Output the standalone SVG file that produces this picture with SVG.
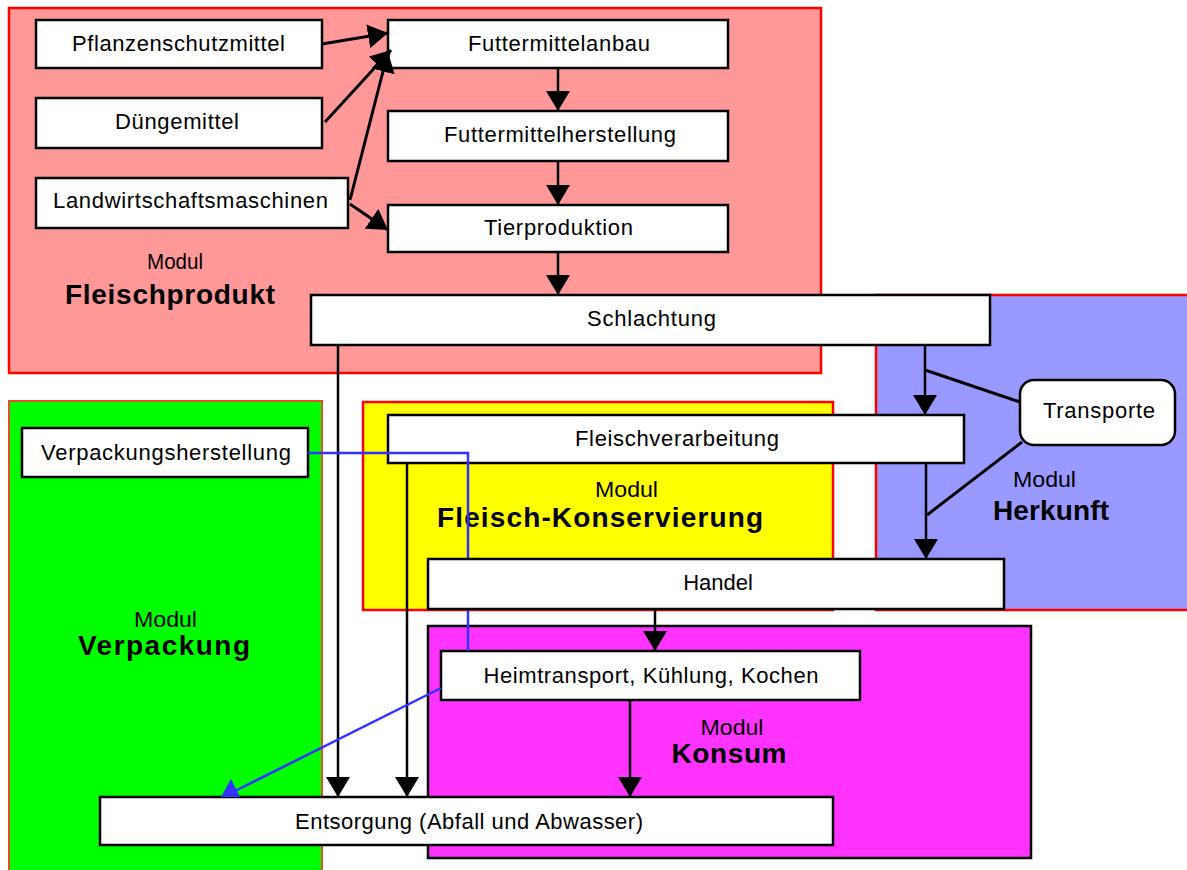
<svg xmlns="http://www.w3.org/2000/svg" width="1187" height="870" viewBox="0 0 1187 870">
  <style>
    .box { fill: #ffffff; stroke: #000000; stroke-width: 2.5; }
    .lbl { font-family: "Liberation Sans", Arial, sans-serif; font-size: 22px; fill: #000000; text-anchor: middle; }
    .mod { font-family: "Liberation Sans", Arial, sans-serif; font-size: 22px; fill: #000000; text-anchor: middle; }
    .modb { font-family: "Liberation Sans", Arial, sans-serif; font-size: 28px; font-weight: bold; fill: #000000; text-anchor: middle; }
    .edge { fill: none; stroke: #000000; stroke-width: 2.5; }
    .edge-thick { fill: none; stroke: #000000; stroke-width: 3; }
    .blue { fill: none; stroke: #3333ff; stroke-width: 2.5; }
  </style>
  <defs>
    <marker id="arrow" viewBox="0 0 20 24" refX="20" refY="12" markerWidth="20" markerHeight="24" markerUnits="userSpaceOnUse" orient="auto">
      <path d="M0,0 L20,12 L0,24 Z" fill="#000000"/>
    </marker>
  </defs>

  <rect width="1187" height="870" fill="#ffffff"/>

  <!-- module areas -->
  <g id="modul-fleischprodukt">
    <rect x="9" y="8" width="812" height="365" fill="#ff9999" stroke="#ff0000" stroke-width="2.5"/>
    <text class="mod" x="175" y="269" textLength="56" lengthAdjust="spacingAndGlyphs">Modul</text>
    <text class="modb" x="170" y="304" textLength="210">Fleischprodukt</text>
  </g>
  <g id="modul-herkunft">
    <rect x="876" y="295" width="320" height="315" fill="#9999ff" stroke="#ff0000" stroke-width="2.5"/>
    <text class="mod" x="1044.5" y="487" textLength="63" lengthAdjust="spacingAndGlyphs">Modul</text>
    <text class="modb" x="1051" y="520" textLength="116">Herkunft</text>
  </g>
  <g id="modul-verpackung">
    <rect x="9" y="401" width="313" height="480" fill="#00ff00" stroke="#e0502a" stroke-width="2"/>
    <text class="mod" x="165.5" y="627" textLength="63" lengthAdjust="spacingAndGlyphs">Modul</text>
    <text class="modb" x="164" y="655" textLength="172">Verpackung</text>
  </g>
  <g id="modul-konservierung">
    <rect x="363" y="402" width="470" height="208" fill="#ffff00" stroke="#ff0000" stroke-width="2.5"/>
    <text class="mod" x="626.5" y="497" textLength="63" lengthAdjust="spacingAndGlyphs">Modul</text>
    <text class="modb" x="600" y="527" textLength="326">Fleisch-Konservierung</text>
  </g>
  <g id="modul-konsum">
    <rect x="428" y="626" width="603" height="232" fill="#ff33ff" stroke="#000000" stroke-width="2.5"/>
    <text class="mod" x="732" y="735" textLength="63" lengthAdjust="spacingAndGlyphs">Modul</text>
    <text class="modb" x="729" y="763" textLength="115">Konsum</text>
  </g>

  <!-- process nodes -->
  <g id="pflanzenschutzmittel">
    <rect class="box" x="36" y="20" width="286" height="48"/>
    <text class="lbl" x="178.5" y="51" textLength="213">Pflanzenschutzmittel</text>
  </g>
  <g id="duengemittel">
    <rect class="box" x="36" y="98" width="286" height="50"/>
    <text class="lbl" x="177" y="129" textLength="124">Düngemittel</text>
  </g>
  <g id="landwirtschaftsmaschinen">
    <rect class="box" x="36" y="178" width="312" height="50"/>
    <text class="lbl" x="190.5" y="208" textLength="275">Landwirtschaftsmaschinen</text>
  </g>
  <g id="futtermittelanbau">
    <rect class="box" x="388" y="20" width="340" height="48"/>
    <text class="lbl" x="559" y="51" textLength="182">Futtermittelanbau</text>
  </g>
  <g id="futtermittelherstellung">
    <rect class="box" x="388" y="111" width="340" height="50"/>
    <text class="lbl" x="560" y="142" textLength="232">Futtermittelherstellung</text>
  </g>
  <g id="tierproduktion">
    <rect class="box" x="388" y="205" width="340" height="47"/>
    <text class="lbl" x="558.5" y="235" textLength="149">Tierproduktion</text>
  </g>
  <g id="schlachtung">
    <rect class="box" x="311" y="295" width="679" height="50"/>
    <text class="lbl" x="651.5" y="326" textLength="129">Schlachtung</text>
  </g>
  <g id="transporte">
    <rect class="box" x="1020" y="380" width="155" height="65" rx="14" ry="14"/>
    <text class="lbl" x="1099" y="418" textLength="112">Transporte</text>
  </g>
  <g id="verpackungsherstellung">
    <rect class="box" x="22" y="428" width="286" height="49"/>
    <text class="lbl" x="166" y="460" textLength="250">Verpackungsherstellung</text>
  </g>
  <g id="fleischverarbeitung">
    <rect class="box" x="388" y="415" width="576" height="48"/>
    <text class="lbl" x="677" y="446" textLength="204">Fleischverarbeitung</text>
  </g>
  <g id="heimtransport">
    <rect class="box" x="441" y="651" width="419" height="49"/>
    <text class="lbl" x="651" y="683" textLength="335">Heimtransport, Kühlung, Kochen</text>
  </g>
  <g id="entsorgung">
    <rect class="box" x="100" y="797" width="733" height="48"/>
    <text class="lbl" x="469" y="829" textLength="348">Entsorgung (Abfall und Abwasser)</text>
  </g>

  <!-- connectors -->
  <g id="connectors">
    <line class="edge-thick" x1="322" y1="44" x2="388" y2="33" marker-end="url(#arrow)"/>
    <line class="edge-thick" x1="325" y1="122" x2="391" y2="50" marker-end="url(#arrow)"/>
    <line class="edge-thick" x1="350" y1="200" x2="388" y2="52" marker-end="url(#arrow)"/>
    <line class="edge-thick" x1="350" y1="204" x2="388" y2="230" marker-end="url(#arrow)"/>
    <line class="edge" x1="558" y1="68" x2="558" y2="111" marker-end="url(#arrow)"/>
    <line class="edge" x1="558" y1="161" x2="558" y2="205" marker-end="url(#arrow)"/>
    <line class="edge" x1="558" y1="252" x2="558" y2="295" marker-end="url(#arrow)"/>
    <line class="edge" x1="925" y1="345" x2="925" y2="415" marker-end="url(#arrow)"/>
    <line class="edge" x1="926" y1="463" x2="926" y2="559" marker-end="url(#arrow)"/>
    <line class="edge-thick" x1="925" y1="370" x2="1020" y2="402"/>
    <line class="edge-thick" x1="1022" y1="442" x2="927" y2="515"/>
    <line class="edge" x1="338" y1="345" x2="338" y2="797" marker-end="url(#arrow)"/>
    <line class="edge" x1="407" y1="463" x2="407" y2="797" marker-end="url(#arrow)"/>
    <line class="edge" x1="655" y1="609" x2="655" y2="651" marker-end="url(#arrow)"/>
    <line class="edge" x1="630" y1="700" x2="630" y2="797" marker-end="url(#arrow)"/>
    <polyline class="blue" points="308,453 468,453 468,651"/>
    <line class="blue" x1="441" y1="688" x2="235" y2="791"/>
    <polygon points="231,779 221,797 240,797" fill="#3333ff"/>
  </g>

  <!-- drawn last so it covers the packaging link passing behind it -->
  <g id="handel">
    <rect class="box" x="428" y="559" width="576" height="50"/>
    <text class="lbl" x="718" y="590">Handel</text>
  </g>
</svg>
